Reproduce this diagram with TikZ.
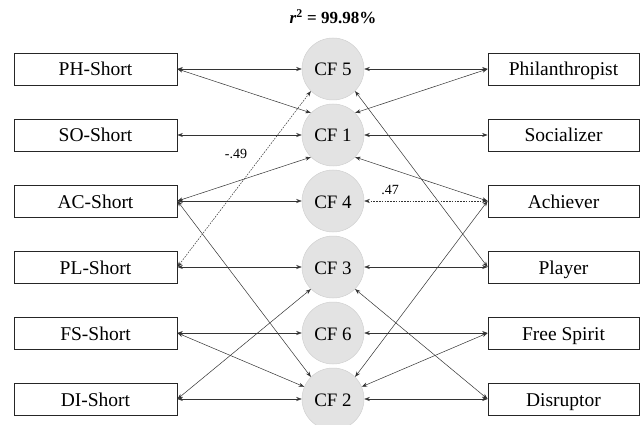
\documentclass[tikz,border=0pt]{standalone}
\usepackage{fontspec}
\setmainfont{Liberation Serif}
\usetikzlibrary{arrows.meta}
\begin{document}
\begin{tikzpicture}[x=1pt,y=-1pt,
  lbox/.style={draw=black!85,line width=0.8pt,minimum width=163pt,minimum height=32pt,inner sep=0pt,text height=14pt,text depth=0pt,font=\fontsize{19.5}{22}\selectfont},
  rbox/.style={lbox,minimum width=151pt},
  cfac/.style={circle,draw=black!18,fill=black!11,line width=0.5pt,minimum size=62pt,inner sep=0pt,text height=14pt,text depth=0pt,font=\fontsize{19}{22}\selectfont},
  conn/.style={draw=black!80,line width=0.5pt,{Stealth[length=5.5pt,width=4pt]}-{Stealth[length=5.5pt,width=4pt]}},
  corr/.style={conn,dash pattern=on 1.6pt off 1.2pt},
  coef/.style={inner sep=0pt,font=\fontsize{14}{16}\selectfont}]
\path[use as bounding box,fill=white] (0,0) rectangle (640,425);

\node[inner sep=0pt,font=\fontsize{17}{20}\selectfont\bfseries] (title) at (333,17) {\textit{r}\textsuperscript{2} = 99.98\%};

\node[lbox] (phs) at (95.5, 69) {PH-Short};
\node[lbox] (sos) at (95.5,135) {SO-Short};
\node[lbox] (acs) at (95.5,201) {AC-Short};
\node[lbox] (pls) at (95.5,267) {PL-Short};
\node[lbox] (fss) at (95.5,333) {FS-Short};
\node[lbox] (dis) at (95.5,399) {DI-Short};

\node[cfac] (cf5) at (333, 69) {CF 5};
\node[cfac] (cf1) at (333,135) {CF 1};
\node[cfac] (cf4) at (333,201) {CF 4};
\node[cfac] (cf3) at (333,267) {CF 3};
\node[cfac] (cf6) at (333,333) {CF 6};
\node[cfac] (cf2) at (333,399) {CF 2};

\node[rbox] (phil) at (563.5, 69) {Philanthropist};
\node[rbox] (soc)  at (563.5,135) {Socializer};
\node[rbox] (ach)  at (563.5,201) {Achiever};
\node[rbox] (play) at (563.5,267) {Player};
\node[rbox] (free) at (563.5,333) {Free Spirit};
\node[rbox] (disr) at (563.5,399) {Disruptor};

\draw[conn] (phs.east) -- (cf5.west);
\draw[conn] (phs.east) -- (cf1.north west);
\draw[conn] (sos.east) -- (cf1.west);
\draw[conn] (acs.east) -- (cf1.south west);
\draw[conn] (acs.east) -- (cf4.west);
\draw[conn] (acs.east) -- (cf2.north west);
\draw[corr] (pls.east) -- (cf5.south west);
\draw[conn] (pls.east) -- (cf3.west);
\draw[conn] (fss.east) -- (cf6.west);
\draw[conn] (fss.east) -- (cf2);
\draw[conn] (dis.east) -- (cf3.south west);
\draw[conn] (dis.east) -- (cf2.west);

\draw[conn] (cf5.east) -- (phil.west);
\draw[conn] (cf1.north east) -- (phil.west);
\draw[conn] (cf1.east) -- (soc.west);
\draw[conn] (cf1.south east) -- (ach.west);
\draw[corr] (cf4.east) -- (ach.west);
\draw[conn] (cf2.north east) -- (ach.west);
\draw[conn] (cf5.south east) -- (play.west);
\draw[conn] (cf3.east) -- (play.west);
\draw[conn] (cf6.east) -- (free.west);
\draw[conn] (cf2) -- (free.west);
\draw[conn] (cf3.south east) -- (disr.west);
\draw[conn] (cf2.east) -- (disr.west);

\node[coef] (c49) at (236,154) {-.49};
\node[coef] (c47) at (390,190) {.47};
\end{tikzpicture}
\end{document}
